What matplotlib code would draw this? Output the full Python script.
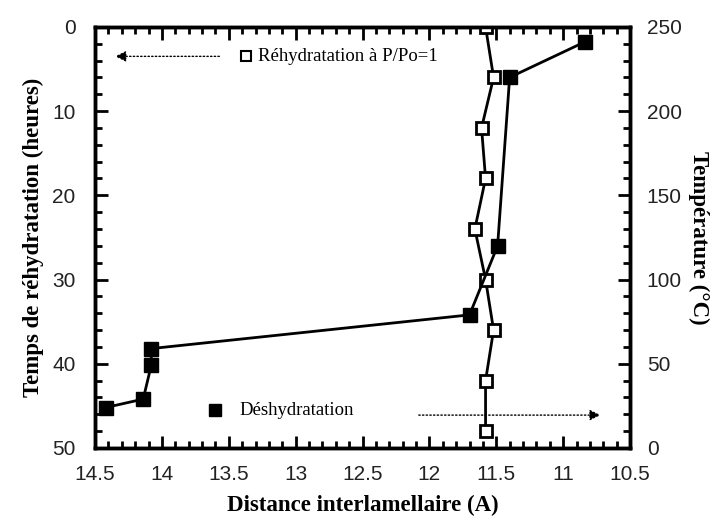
import matplotlib.pyplot as plt
from matplotlib.ticker import MultipleLocator

plt.rcParams['font.family'] = ['Liberation Serif', 'DejaVu Serif']

# rehydration at P/Po=1 (left axis: time, hours)
t_rehyd = [0, 6, 12, 18, 24, 30, 36, 42, 48]
d_rehyd = [11.58, 11.52, 11.61, 11.58, 11.66, 11.58, 11.52, 11.58, 11.58]

# dehydration (right axis: temperature, C)
T_dehyd = [241, 220, 120, 79, 59, 49, 29, 24]
d_dehyd = [10.84, 11.40, 11.49, 11.70, 14.08, 14.08, 14.14, 14.42]

xticks = [14.5, 14, 13.5, 13, 12.5, 12, 11.5, 11, 10.5]
xticklabels = ['14.5', '14', '13.5', '13', '12.5', '12', '11.5', '11', '10.5']

fig = plt.figure(figsize=(7.2, 5.27), dpi=100)
ax = fig.add_axes([0.132, 0.15, 0.743, 0.799])
ax2 = ax.twinx()

ax.plot(d_rehyd, t_rehyd, color='k', lw=2, marker='s', ms=8,
        mfc='white', mec='k', mew=2, zorder=3)
ax2.plot(d_dehyd, T_dehyd, color='k', lw=2, marker='s', ms=10,
         mfc='k', mec='k', zorder=3)

ax.set_xlim(14.5, 10.5)
ax.set_ylim(50, 0)
ax2.set_ylim(0, 250)

ax.set_xticks(xticks)
ax.set_xticklabels(xticklabels)
ax.xaxis.set_minor_locator(MultipleLocator(0.1))
ax.yaxis.set_major_locator(MultipleLocator(10))
ax.yaxis.set_minor_locator(MultipleLocator(2))
ax2.yaxis.set_major_locator(MultipleLocator(50))
ax2.yaxis.set_minor_locator(MultipleLocator(10))

ax.tick_params(axis='x', which='both', direction='in', top=True, bottom=True)
ax.tick_params(axis='y', which='both', direction='in', left=True, right=False)
ax2.tick_params(axis='y', which='both', direction='in', right=True)
ax.tick_params(axis='x', which='major', labelsize=15, pad=12)
ax.tick_params(axis='y', which='major', labelsize=15, pad=14)
ax2.tick_params(axis='y', which='major', labelsize=15, pad=12)
for a in (ax, ax2):
    a.tick_params(which='major', length=9, width=2, labelfontfamily='Liberation Sans',
                  labelcolor='#222222')
    a.tick_params(which='minor', length=5, width=2)
    for s in a.spines.values():
        s.set_linewidth(2.5)

ax.set_xlabel('Distance interlamellaire (A)', fontsize=16.5, fontweight='bold', labelpad=8)
ax.set_ylabel('Temps de réhydratation (heures)', fontsize=16.5, fontweight='bold', labelpad=6)
ax2.set_ylabel('Température (°C)', fontsize=16.5, fontweight='bold', rotation=-90, labelpad=20)

# legend-like annotations
ax.plot([13.37], [3.5], marker='s', ms=7, mfc='white', mec='k', mew=1.5, ls='none')
ax.text(13.28, 3.5, 'Réhydratation à P/Po=1', fontsize=13.5, va='center', ha='left')
ax.annotate('', xy=(14.37, 3.5), xytext=(13.55, 3.5),
            arrowprops=dict(arrowstyle='-|>', linestyle=':', color='k', lw=1,
                            mutation_scale=16))
ax.plot([13.6], [45.5], marker='s', ms=9, mfc='k', mec='k', ls='none')
ax.text(13.42, 45.5, 'Déshydratation', fontsize=13.5, va='center', ha='left')
ax.annotate('', xy=(10.7, 46.1), xytext=(12.1, 46.1),
            arrowprops=dict(arrowstyle='-|>', linestyle=':', color='k', lw=1,
                            mutation_scale=16))

plt.savefig('out.png', dpi=100)
